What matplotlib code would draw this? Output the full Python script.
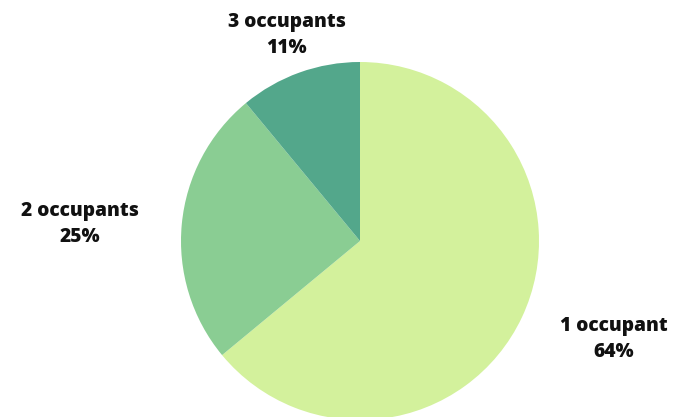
import matplotlib
matplotlib.use("Agg")
import matplotlib.pyplot as plt

categories = ["1 occupant", "2 occupants", "3 occupants"]
shares = [64, 25, 11]
colors = ["#D3F19C", "#8ACD93", "#53A78B"]
# label positions in pie radius units
label_xy = [(1.419, -0.548), (-1.564, 0.094), (-0.408, 1.150)]

plt.rcParams['font.family'] = ['Open Sans', 'DejaVu Sans']

W, H = 677, 417
fig = plt.figure(figsize=(W / 100, H / 100), dpi=100)
fig.patch.set_facecolor('white')

r_px = 179
cx, cy = 360, H - 241
ax = fig.add_axes([(cx - r_px) / W, (cy - r_px) / H, 2 * r_px / W, 2 * r_px / H])
ax.pie(shares, colors=colors, startangle=90, counterclock=False,
       wedgeprops=dict(linewidth=0))
ax.set_xlim(-1, 1)
ax.set_ylim(-1, 1)
ax.set_aspect('equal')
ax.axis('off')

for name, val, (x, y) in zip(categories, shares, label_xy):
    ax.text(x, y, f"{name}\n{val}%", ha='center', va='center',
            fontsize=13.8, fontweight=800, color='#111111',
            linespacing=1.38, clip_on=False)

fig.savefig("out.png", dpi=100)
